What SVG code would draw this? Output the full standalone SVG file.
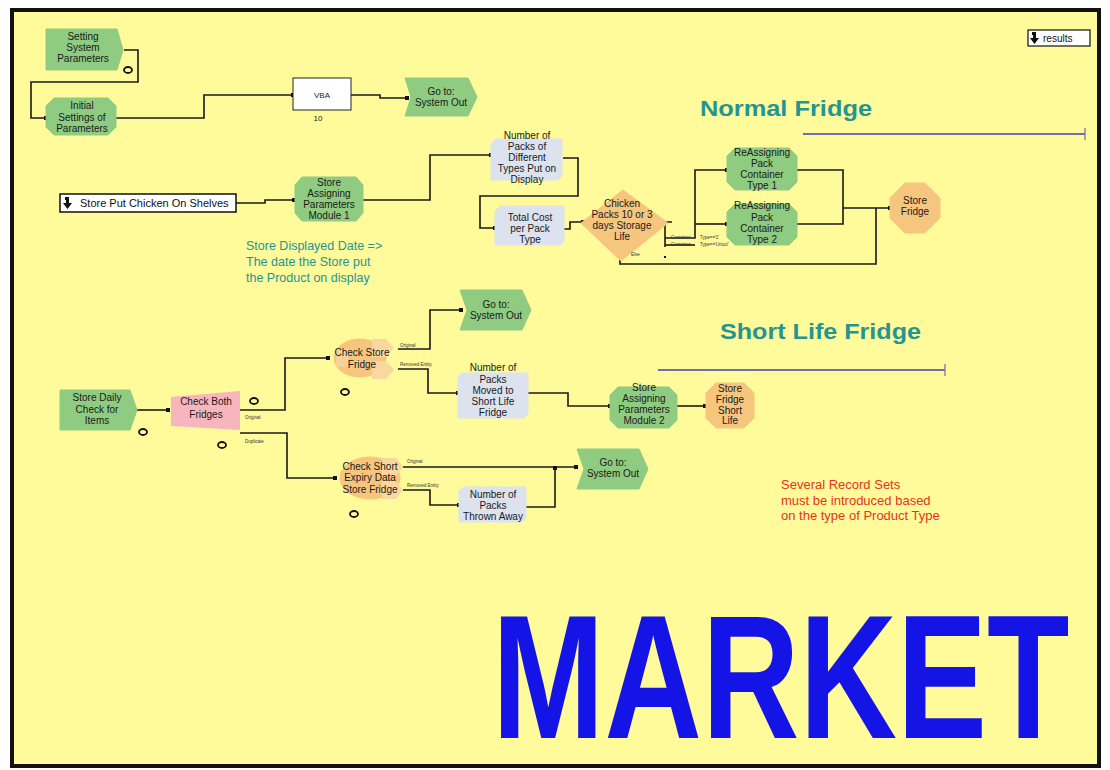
<svg xmlns="http://www.w3.org/2000/svg" width="1110" height="770" viewBox="0 0 1110 770">
<defs>
<style>
.t{font-family:"Liberation Sans",Arial,sans-serif;font-size:10px;fill:#1a1a1a;text-anchor:middle}
.s{font-family:"Liberation Sans",Arial,sans-serif;font-size:4.5px;fill:#333}
.g{fill:#8FCB80;stroke:#8FCB80}
.o{fill:#F6C57E;stroke:#F6C57E}
.y{fill:#DCE2EE;stroke:#DCE2EE}
.c{fill:none;stroke:#1a1a1a;stroke-width:1.6;marker-end:url(#dot)}
.cn{fill:none;stroke:#1a1a1a;stroke-width:1.6}
.ring{fill:none;stroke:#111;stroke-width:1.8}
.teal{font-family:"Liberation Sans",Arial,sans-serif;fill:#249593}
</style>
<marker id="dot" markerWidth="4" markerHeight="4" refX="2" refY="2" markerUnits="userSpaceOnUse"><rect x="0" y="0" width="4" height="4" fill="#111"/></marker>
</defs>
<rect x="0" y="0" width="1110" height="770" fill="#fff"/>
<rect x="12" y="10" width="1087" height="756" fill="#FFFA9A" stroke="#111" stroke-width="4"/>

<g id="connectors">
<path class="c" d="M124,50 H138 V82 H31 V118 H46"/>
<path class="c" d="M116,118 H204 V95 H293"/>
<path class="c" d="M351,95 H380 V98 H407"/>
<path class="c" d="M236,203 H265 V200 H294"/>
<path class="c" d="M363,200 H430 V155 H491"/>
<path class="c" d="M563,158 H578 V196 H480 V228 H495"/>
<path class="c" d="M563,229 H570 V222 H583"/>
<path class="cn" d="M660,222 H672 M665,222 V247"/>
<path class="c" d="M665,238 H695 V170 H727"/>
<path class="cn" d="M665,245 H695"/>
<path class="c" d="M695,224 H727"/>
<rect x="664" y="256" width="2" height="2" fill="#111"/>
<path class="cn" d="M797,170 H843 V224 H797"/>
<path class="c" d="M843,208 H890"/>
<path class="cn" d="M620,258 V264 H876 V208"/>
<path class="c" d="M137,410 H168"/>
<path class="c" d="M240,410 H285 V358 H328"/>
<path class="c" d="M240,433 H287 V478 H335"/>
<path class="c" d="M398,349 H430 V310 H461"/>
<path class="c" d="M398,369 H428 V393 H458"/>
<path class="c" d="M528,393 H568 V406 H610"/>
<path class="c" d="M677,406 H705"/>
<path class="c" d="M403,467 H576"/>
<path class="c" d="M403,490 H430 V505 H459"/>
<path class="c" d="M525,507 H555 V468"/>
</g>

<g id="setting-system-parameters">
<path class="g" d="M46,29 H117 L123,50 L117,70 H46 Z"/>
<text class="t" x="83" y="40">Setting</text><text class="t" x="83" y="51">System</text><text class="t" x="83" y="62">Parameters</text>
<ellipse class="ring" cx="128" cy="70" rx="4" ry="3"/>
</g>
<g id="initial-settings">
<path class="g" d="M54,98 H108 L116,106 V127 L108,135 H54 L46,127 V106 Z"/>
<text class="t" x="82" y="109">Initial</text><text class="t" x="82" y="121">Settings of</text><text class="t" x="82" y="132">Parameters</text>
</g>
<g id="vba">
<rect x="293" y="78" width="58" height="32" fill="#fff" stroke="#222" stroke-width="1"/>
<text class="t" x="322" y="98" style="font-size:8px">VBA</text>
<text class="t" x="318" y="121" style="font-size:8px">10</text>
</g>
<g id="goto-1">
<path class="g" d="M405,78 H468 L477,97 L468,116 H405 L411,97 Z"/>
<text class="t" x="441" y="95">Go to:</text><text class="t" x="441" y="106">System Out</text>
</g>

<g id="normal-fridge-title">
<text class="teal" x="700" y="116" font-size="22" font-weight="bold" textLength="172" lengthAdjust="spacingAndGlyphs">Normal Fridge</text>
<path d="M803,134 H1085" stroke="#6E6EB4" stroke-width="2"/>
<path d="M1085,128 V140" stroke="#6E6EB4" stroke-width="1.2"/>
</g>

<g id="store-put-chicken">
<rect x="60" y="194" width="176" height="18" fill="#fff" stroke="#111" stroke-width="1.5"/>
<path d="M65,197 L69,197 L69,203 L72,203 L67.5,209 L63,203 L66,203 L66,200 L65,200 Z" fill="#111"/>
<text x="80" y="207" style="font-family:'Liberation Sans',Arial,sans-serif;font-size:11px;fill:#111">Store Put Chicken On Shelves</text>
</g>
<g id="store-assigning-1">
<path class="g" d="M302,177 H356 L363,185 V213 L356,221 H302 L295,213 V185 Z"/>
<text class="t" x="329" y="186">Store</text><text class="t" x="329" y="197">Assigning</text><text class="t" x="329" y="208">Parameters</text><text class="t" x="329" y="219">Module 1</text>
</g>
<g id="store-displayed-note">
<text class="teal" x="246" y="250" font-size="12.5">Store Displayed Date =&gt;</text>
<text class="teal" x="246" y="266" font-size="12.5">The date the Store put</text>
<text class="teal" x="246" y="282" font-size="12.5">the Product on display</text>
</g>
<g id="number-of-packs-display">
<path class="y" d="M496,139 H562 V176 L558,180 H491 V144 Z"/>
<text class="t" x="527" y="139">Number of</text><text class="t" x="527" y="150">Packs of</text><text class="t" x="527" y="161">Different</text><text class="t" x="527" y="172">Types Put on</text><text class="t" x="527" y="183">Display</text>
</g>
<g id="total-cost">
<path class="y" d="M500,206 H564 V241 L560,245 H495 V211 Z"/>
<text class="t" x="530" y="221">Total Cost</text><text class="t" x="530" y="232">per Pack</text><text class="t" x="530" y="243">Type</text>
</g>
<g id="chicken-packs-decision">
<path class="o" d="M623,190 L668,223 L621,261 L581,223 Z"/>
<text class="t" x="622" y="207">Chicken</text><text class="t" x="622" y="218">Packs 10 or 3</text><text class="t" x="622" y="229">days Storage</text><text class="t" x="622" y="240">Life</text>
<text class="s" x="631" y="256">Else</text>
<text class="s" x="671" y="239">Container</text><text class="s" x="700" y="239">Type=='1'</text>
<text class="s" x="671" y="246">Container</text><text class="s" x="700" y="246">Type=='Uncut'</text>
</g>
<g id="reassigning-1">
<path class="g" d="M735,148 H789 L797,156 V182 L789,190 H735 L727,182 V156 Z"/>
<text class="t" x="762" y="156">ReAssigning</text><text class="t" x="762" y="167">Pack</text><text class="t" x="762" y="178">Container</text><text class="t" x="762" y="189">Type 1</text>
</g>
<g id="reassigning-2">
<path class="g" d="M735,204 H789 L797,212 V237 L789,245 H735 L727,237 V212 Z"/>
<text class="t" x="762" y="209">ReAssigning</text><text class="t" x="762" y="221">Pack</text><text class="t" x="762" y="232">Container</text><text class="t" x="762" y="243">Type 2</text>
</g>
<g id="store-fridge">
<path class="o" d="M905,183 H925 L940,198 V218 L925,233 H905 L890,218 V198 Z"/>
<text class="t" x="915" y="204">Store</text><text class="t" x="915" y="215">Fridge</text>
</g>

<g id="short-life-title">
<text class="teal" x="720" y="339" font-size="22" font-weight="bold" textLength="201" lengthAdjust="spacingAndGlyphs">Short Life Fridge</text>
<path d="M658,370 H945" stroke="#6E6EB4" stroke-width="2"/>
<path d="M945,364 V376" stroke="#6E6EB4" stroke-width="1.2"/>
</g>

<g id="store-daily-check">
<path class="g" d="M60,390 H130 L137,410 L130,430 H60 Z"/>
<text class="t" x="97" y="401">Store Daily</text><text class="t" x="97" y="413">Check for</text><text class="t" x="97" y="424">Items</text>
<ellipse class="ring" cx="143" cy="432" rx="4" ry="3"/>
</g>
<g id="check-both-fridges">
<path d="M171,397 L240,391 V430 L171,426 Z" fill="#F7B5BD"/>
<text class="t" x="206" y="405">Check Both</text><text class="t" x="206" y="418">Fridges</text>
<ellipse class="ring" cx="254" cy="401" rx="4" ry="3"/>
<ellipse class="ring" cx="222" cy="445" rx="4" ry="3"/>
<text class="s" x="245" y="419">Original</text>
<text class="s" x="245" y="443">Duplicate</text>
</g>
<g id="check-store-fridge">
<ellipse class="o" cx="360" cy="358" rx="26" ry="19"/>
<path d="M372,339 H386 L394,348 L386,357 H372 Z" fill="#FAD79E"/>
<path d="M372,361 H386 L394,370 L386,379 H372 Z" fill="#FAD79E"/>
<path d="M336,349 H348 V367 H336 Z" fill="#FAD79E" opacity="0.7"/>
<text class="t" x="362" y="356">Check Store</text><text class="t" x="362" y="368">Fridge</text>
<ellipse class="ring" cx="345" cy="392" rx="4" ry="3"/>
<text class="s" x="400" y="347">Original</text>
<text class="s" x="400" y="366">Removed Entity</text>
</g>
<g id="goto-2">
<path class="g" d="M460,290 H522 L531,310 L522,330 H460 L467,310 Z"/>
<text class="t" x="496" y="308">Go to:</text><text class="t" x="496" y="319">System Out</text>
</g>
<g id="packs-moved">
<path class="y" d="M462,373 H528 V414 L524,418 H458 V377 Z"/>
<text class="t" x="493" y="371">Number of</text><text class="t" x="493" y="383">Packs</text><text class="t" x="493" y="394">Moved to</text><text class="t" x="493" y="405">Short Life</text><text class="t" x="493" y="416">Fridge</text>
</g>
<g id="store-assigning-2">
<path class="g" d="M618,387 H669 L677,395 V420 L669,428 H618 L610,420 V395 Z"/>
<text class="t" x="644" y="391">Store</text><text class="t" x="644" y="402">Assigning</text><text class="t" x="644" y="413">Parameters</text><text class="t" x="644" y="424">Module 2</text>
</g>
<g id="store-fridge-short-life">
<path class="o" d="M716,383 H744 L754,393 V418 L744,428 H716 L706,418 V393 Z"/>
<text class="t" x="730" y="392">Store</text><text class="t" x="730" y="403">Fridge</text><text class="t" x="730" y="414">Short</text><text class="t" x="730" y="424">Life</text>
</g>
<g id="check-short-expiry">
<ellipse class="o" cx="370" cy="478" rx="30" ry="21"/>
<path d="M382,458 H396 L403,467 L396,476 H382 Z" fill="#FAD79E"/>
<path d="M382,481 H396 L403,490 L396,499 H382 Z" fill="#FAD79E"/>
<text class="t" x="370" y="470">Check Short</text><text class="t" x="370" y="481">Expiry Data</text><text class="t" x="370" y="493">Store Fridge</text>
<ellipse class="ring" cx="354" cy="514" rx="4" ry="3"/>
<text class="s" x="407" y="463">Original</text>
<text class="s" x="407" y="487">Removed Entity</text>
</g>
<g id="goto-3">
<path class="g" d="M577,449 H639 L648,469 L639,489 H577 L584,469 Z"/>
<text class="t" x="613" y="466">Go to:</text><text class="t" x="613" y="477">System Out</text>
</g>
<g id="packs-thrown-away">
<path class="y" d="M464,487 H526 V518 L522,522 H459 V491 Z"/>
<text class="t" x="493" y="498">Number of</text><text class="t" x="493" y="509">Packs</text><text class="t" x="493" y="520">Thrown Away</text>
</g>

<g id="record-sets-note">
<text x="781" y="489" style="font-family:'Liberation Sans',Arial,sans-serif;font-size:13px;fill:#E4361C">Several Record Sets</text>
<text x="781" y="505" style="font-family:'Liberation Sans',Arial,sans-serif;font-size:13px;fill:#E4361C">must be introduced based</text>
<text x="781" y="520" style="font-family:'Liberation Sans',Arial,sans-serif;font-size:13px;fill:#E4361C">on the type of Product Type</text>
</g>

<g id="results">
<rect x="1028" y="30" width="62" height="16" fill="#fff" stroke="#111" stroke-width="1.2"/>
<path d="M1032,32 L1036,32 L1036,38 L1039,38 L1034.5,44 L1030,38 L1033,38 L1033,35 L1032,35 Z" fill="#111"/>
<text x="1043" y="42" style="font-family:'Liberation Sans',Arial,sans-serif;font-size:10px;fill:#111">results</text>
</g>

<g id="market-title">
<text transform="translate(492,738) scale(1,1.3)" x="0" y="0" style="font-family:'Liberation Sans',Arial,sans-serif;font-size:135px;font-weight:bold;fill:#1414E6">MARKET</text>
</g>
</svg>
